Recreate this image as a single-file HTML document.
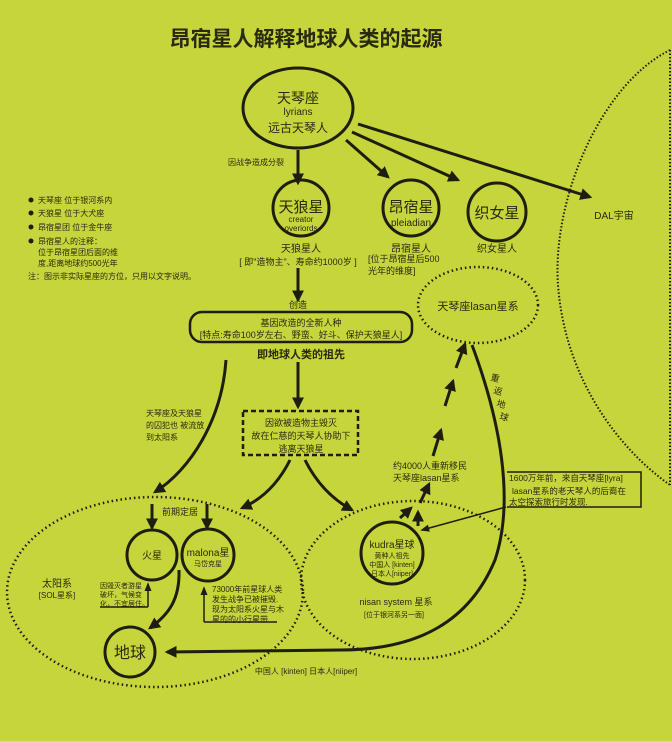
<!DOCTYPE html>
<html><head><meta charset="utf-8"><style>
html,body{margin:0;padding:0;background:#c6d53c;}
svg{display:block;font-family:"Liberation Sans","Noto Sans CJK SC",sans-serif;}
text{fill:#2a2a10;}
</style></head><body>
<svg width="672" height="741" viewBox="0 0 672 741" xmlns="http://www.w3.org/2000/svg">
<defs>
<marker id="a" viewBox="0 0 10 10" refX="8" refY="5" markerWidth="4" markerHeight="4" orient="auto"><path d="M0,0L10,5L0,10z" fill="#1e1e10"/></marker>
<marker id="s" viewBox="0 0 10 10" refX="8" refY="5" markerWidth="6" markerHeight="6" orient="auto"><path d="M0,1L10,5L0,9z" fill="#1e1e10"/></marker>
</defs>
<rect width="672" height="741" fill="#c6d53c"/>
<text x="306" y="46" font-size="21" font-weight="bold" text-anchor="middle">昂宿星人解释地球人类的起源</text>

<g fill="none" stroke="#1e1e10" stroke-width="3">
<ellipse cx="298" cy="108" rx="55" ry="40"/>
<circle cx="301" cy="208" r="28"/>
<circle cx="411" cy="208" r="28"/>
<circle cx="497" cy="212" r="29"/>
<circle cx="152" cy="555" r="25"/>
<circle cx="208" cy="555" r="26"/>
<circle cx="130" cy="652" r="25"/>
<circle cx="392" cy="553" r="31"/>
</g>
<g fill="none" stroke="#1e1e10" stroke-width="3" marker-end="url(#a)">
<line x1="298" y1="150" x2="298" y2="183"/>
<line x1="346" y1="140" x2="388" y2="177"/>
<line x1="352" y1="132" x2="458" y2="180"/>
<line x1="358" y1="124" x2="590" y2="197"/>
<line x1="298" y1="268" x2="298" y2="300"/>
<line x1="298" y1="362" x2="298" y2="407"/>
<path d="M226,360 C222,420 190,470 155,492"/>
<path d="M290,460 C280,480 265,498 242,508"/>
<path d="M305,460 C315,480 330,498 352,510"/>
<line x1="152" y1="504" x2="152" y2="528"/>
<line x1="207" y1="504" x2="207" y2="528"/>
<path d="M179,570 C180,600 168,615 150,628"/>
<path d="M472,345 C500,420 515,500 495,560 C470,620 420,650 340,650 L167,652"/>
<line x1="400" y1="518" x2="411" y2="508"/>
<line x1="418" y1="526" x2="418" y2="512"/>
<line x1="420" y1="503" x2="429" y2="484"/>
<line x1="433" y1="456" x2="441" y2="430"/>
<line x1="445" y1="406" x2="453" y2="381"/>
<line x1="456" y1="368" x2="465" y2="344"/>
</g>
<g fill="none" stroke="#1e1e10" stroke-width="1.5">
<line x1="506" y1="507" x2="422" y2="530" marker-end="url(#s)"/>
<line x1="148" y1="607" x2="148" y2="584" marker-end="url(#s)"/>
<line x1="100" y1="607" x2="148" y2="607"/>
<line x1="204" y1="622" x2="204" y2="588" marker-end="url(#s)"/>
<line x1="204" y1="622" x2="277" y2="622"/>
<polyline points="507,472 641,472 641,507 507,507"/>
</g>
<rect x="190" y="312" width="222" height="30" rx="12" fill="none" stroke="#1e1e10" stroke-width="2.5"/>
<rect x="243" y="411" width="115" height="44" fill="none" stroke="#1e1e10" stroke-width="2.5" stroke-dasharray="5,3"/>
<g fill="none" stroke="#1e1e10" stroke-width="2.5" stroke-dasharray="1.5,3">
<ellipse cx="478" cy="305" rx="60" ry="38"/>
<ellipse cx="155" cy="592" rx="148" ry="95"/>
<ellipse cx="413" cy="580" rx="112" ry="79"/>
</g>
<g fill="none" stroke="#1e1e10" stroke-width="2" stroke-dasharray="1.5,2">
<path d="M670,50 C600,85 552,200 558,285 C565,380 620,450 670,485"/>
<line x1="670" y1="50" x2="670" y2="485"/>
</g>

<g text-anchor="middle">
<text x="298" y="103" font-size="14">天琴座</text>
<text x="298" y="115" font-size="10">lyrians</text>
<text x="298" y="132" font-size="12">远古天琴人</text>
<text x="301" y="212" font-size="15">天狼星</text>
<text x="301" y="222" font-size="8">creator</text>
<text x="301" y="231" font-size="8">overiords</text>
<text x="411" y="212" font-size="15">昂宿星</text>
<text x="411" y="226" font-size="10">pleiadian</text>
<text x="497" y="218" font-size="15">织女星</text>
<text x="301" y="252" font-size="10">天狼星人</text>
<text x="298" y="265" font-size="9">[ 即"造物主"、寿命约1000岁 ]</text>
<text x="411" y="252" font-size="10">昂宿星人</text>
<text x="497" y="252" font-size="10">织女星人</text>
<text x="298" y="308" font-size="9">创造</text>
<text x="301" y="326" font-size="9">基因改造的全新人种</text>
<text x="301" y="338" font-size="9">[特点:寿命100岁左右、野蛮、好斗、保护天狼星人]</text>
<text x="301" y="358" font-size="11" font-weight="bold">即地球人类的祖先</text>
<text x="301" y="426" font-size="9">因欲被造物主毁灭</text>
<text x="301" y="439" font-size="9">故在仁慈的天琴人协助下</text>
<text x="301" y="452" font-size="9">逃离天狼星</text>
<text x="478" y="310" font-size="11">天琴座lasan星系</text>
<text x="180" y="515" font-size="9">前期定居</text>
<text x="152" y="559" font-size="10">火星</text>
<text x="208" y="556" font-size="10">malona星</text>
<text x="208" y="566" font-size="7">马岱克星</text>
<text x="130" y="658" font-size="16">地球</text>
<text x="57" y="587" font-size="10">太阳系</text>
<text x="57" y="598" font-size="8">[SOL星系]</text>
<text x="392" y="548" font-size="10">kudra星球</text>
<text x="392" y="558" font-size="7">黄种人祖先</text>
<text x="392" y="567" font-size="7">中国人 [kinten]</text>
<text x="392" y="576" font-size="7">日本人[niiper]</text>
<text x="396" y="605" font-size="9">nisan system 星系</text>
<text x="394" y="617" font-size="7">[位于银河系另一面]</text>
<text x="306" y="674" font-size="8">中国人 [kinten] 日本人[niiper]</text>
<text x="614" y="219" font-size="10">DAL宇宙</text>
</g>
<text x="228" y="165" font-size="8">因战争造成分裂</text>
<text x="368" y="262" font-size="9">[位于昂宿星后500</text>
<text x="368" y="274" font-size="9">光年的维度]</text>
<g font-size="8">
<text x="146" y="416">天琴座及天狼星</text>
<text x="146" y="428">的囚犯也 被流放</text>
<text x="146" y="440">到太阳系</text>
<text x="100" y="588" font-size="7">因毁灭者游星</text>
<text x="100" y="597" font-size="7">破坏，气候变</text>
<text x="100" y="606" font-size="7">化，不宜居住。</text>
<text x="212" y="592">73000年前星球人类</text>
<text x="212" y="602">发生战争已被摧毁.</text>
<text x="212" y="612">现为太阳系火星与木</text>
<text x="212" y="622">星的的小行星带</text>
<text x="393" y="469" font-size="9">约4000人重新移民</text>
<text x="393" y="481" font-size="9">天琴座lasan星系</text>
<text x="509" y="481" font-size="8.5">1600万年前，来自天琴座[lyra]</text>
<text x="512" y="494" font-size="8.5">lasan星系的老天琴人的后裔在</text>
<text x="509" y="505" font-size="8.5">太空探索旅行时发现.</text>
</g>
<g font-size="9">
<text x="490" y="380" transform="rotate(15 490 380)">重</text>
<text x="493" y="393" transform="rotate(15 493 393)">返</text>
<text x="496" y="406" transform="rotate(15 496 406)">地</text>
<text x="499" y="419" transform="rotate(15 499 419)">球</text>
</g>
<g fill="#1e1e10">
<circle cx="31" cy="200" r="2.5"/><circle cx="31" cy="213" r="2.5"/><circle cx="31" cy="227" r="2.5"/><circle cx="31" cy="241" r="2.5"/>
</g>
<g font-size="8">
<text x="38" y="203">天琴座 位于银河系内</text>
<text x="38" y="216">天狼星 位于大犬座</text>
<text x="38" y="230">昂宿星团 位于金牛座</text>
<text x="38" y="244">昂宿星人的注释：</text>
<text x="38" y="255">位于昂宿星团后面的维</text>
<text x="38" y="266">度,距离地球约500光年</text>
<text x="28" y="279">注：图示非实际星座的方位，只用以文字说明。</text>
</g>
</svg>
</body></html>
